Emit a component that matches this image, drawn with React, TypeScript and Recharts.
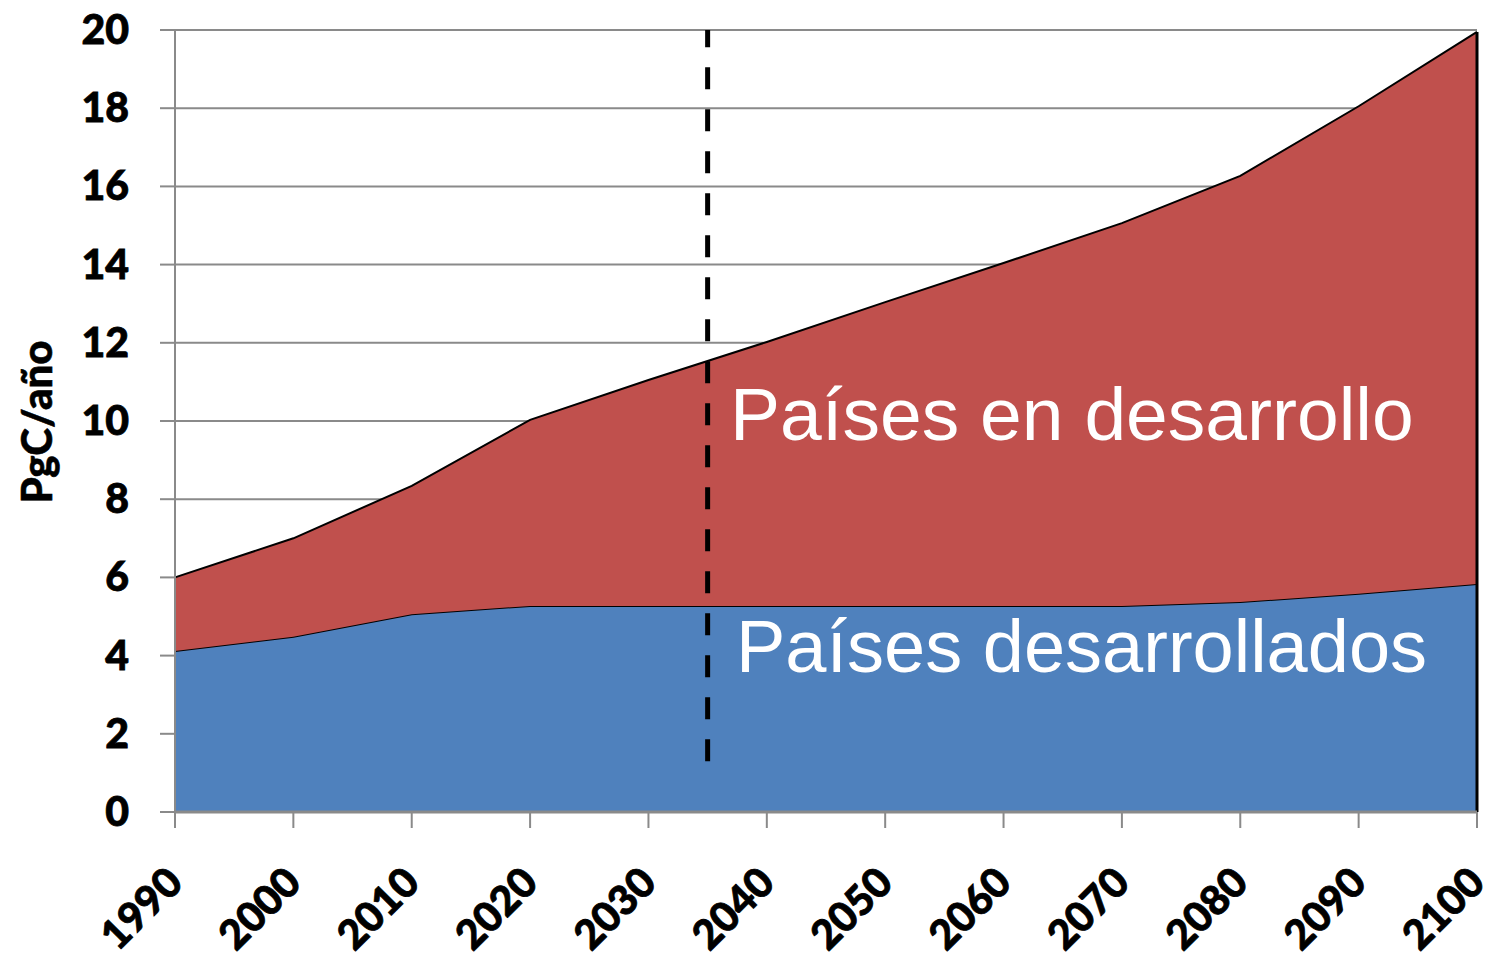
import React from "react";
import { AreaChart, Area, XAxis, YAxis, CartesianGrid, ReferenceLine } from "recharts";

const years = [1990, 2000, 2010, 2020, 2030, 2040, 2050, 2060, 2070, 2080, 2090, 2100];
const developed = [4.12, 4.48, 5.06, 5.27, 5.27, 5.27, 5.27, 5.27, 5.27, 5.37, 5.58, 5.83];
const developing = [1.88, 2.52, 3.28, 4.76, 5.78, 6.75, 7.77, 8.77, 9.79, 10.9, 12.47, 14.12];
const yTicks = [0, 2, 4, 6, 8, 10, 12, 14, 16, 18, 20];
const dividerYear = 2035;
const dividerBottom = 1.3;

const yLabel = "PgC/año";
const developingLabel = "Países en desarrollo";
const developedLabel = "Países desarrollados";

const data = years.map((y, i) => ({ year: y, developed: developed[i], developing: developing[i] }));
const lastTotal = developed[developed.length - 1] + developing[developing.length - 1];

const tickFont = "Lato, 'DejaVu Sans', sans-serif";

const XTick = (props: any) => {
  const { x, y, payload } = props;
  const ax = x + 10;
  const ay = y + 55;
  return (
    <text
      x={ax}
      y={ay}
      transform={`rotate(-45, ${ax}, ${ay})`}
      textAnchor="end"
      fontFamily={tickFont}
      fontWeight={900}
      fontSize={41}
      fill="#000"
      stroke="#000"
      strokeWidth={0.8}
    >
      {payload.value}
    </text>
  );
};

const YTick = (props: any) => {
  const { x, y, payload } = props;
  return (
    <text
      x={x}
      y={y + 14}
      textAnchor="end"
      fontFamily={tickFont}
      fontWeight={900}
      fontSize={41}
      fill="#000"
      stroke="#000"
      strokeWidth={0.8}
    >
      {payload.value}
    </text>
  );
};

export default function App() {
  return (
    <div style={{ position: "absolute", left: 0, top: 0, width: 1494, height: 961, background: "#fff" }}>
      <AreaChart
        width={1494}
        height={961}
        data={data}
        margin={{ top: 30, right: 17, bottom: 9, left: 75 }}
      >
        <CartesianGrid vertical={false} stroke="#8a8a8a" strokeWidth={2} />
        <XAxis
          dataKey="year"
          type="number"
          domain={[1990, 2100]}
          ticks={years}
          height={140}
          axisLine={{ stroke: "#8a8a8a", strokeWidth: 3 }}
          tickLine={{ stroke: "#8a8a8a", strokeWidth: 2 }}
          tickSize={16}
          tick={<XTick />}
          interval={0}
        />
        <YAxis
          type="number"
          domain={[0, 20]}
          ticks={yTicks}
          width={100}
          axisLine={{ stroke: "#8a8a8a", strokeWidth: 2 }}
          tickLine={{ stroke: "#8a8a8a", strokeWidth: 2 }}
          tickSize={15}
          tickMargin={31}
          tick={<YTick />}
          interval={0}
        />
        <Area
          type="linear"
          dataKey="developed"
          stackId="a"
          fill="#4F81BD"
          fillOpacity={1}
          stroke="#000"
          strokeWidth={2}
          isAnimationActive={false}
        />
        <Area
          type="linear"
          dataKey="developing"
          stackId="a"
          fill="#C0504D"
          fillOpacity={1}
          stroke="#000"
          strokeWidth={2}
          isAnimationActive={false}
        />
        <ReferenceLine
          segment={[{ x: 2100, y: 0 }, { x: 2100, y: lastTotal }]}
          stroke="#000"
          strokeWidth={3}
        />
        <ReferenceLine
          segment={[{ x: 1990, y: 0 }, { x: 2100, y: 0 }]}
          stroke="#000"
          strokeWidth={1.5}
        />
        <ReferenceLine
          segment={[{ x: dividerYear, y: dividerBottom }, { x: dividerYear, y: 20 }]}
          stroke="#000"
          strokeWidth={5}
          strokeDasharray="22 20"
        />
      </AreaChart>
      <svg
        width={1494}
        height={961}
        style={{ position: "absolute", left: 0, top: 0, pointerEvents: "none" }}
      >
        <text
          transform="translate(52, 422) rotate(-90)"
          textAnchor="middle"
          fontFamily={tickFont}
          fontWeight={900}
          fontSize={42}
          fill="#000"
          stroke="#000"
          strokeWidth={0.6}
        >
          {yLabel}
        </text>
        <text x={730} y={440} fontFamily="'Liberation Sans', Arial, sans-serif" fontSize={75} fill="#fff">
          {developingLabel}
        </text>
        <text x={736} y={672} fontFamily="'Liberation Sans', Arial, sans-serif" fontSize={74} fill="#fff">
          {developedLabel}
        </text>
      </svg>
    </div>
  );
}
